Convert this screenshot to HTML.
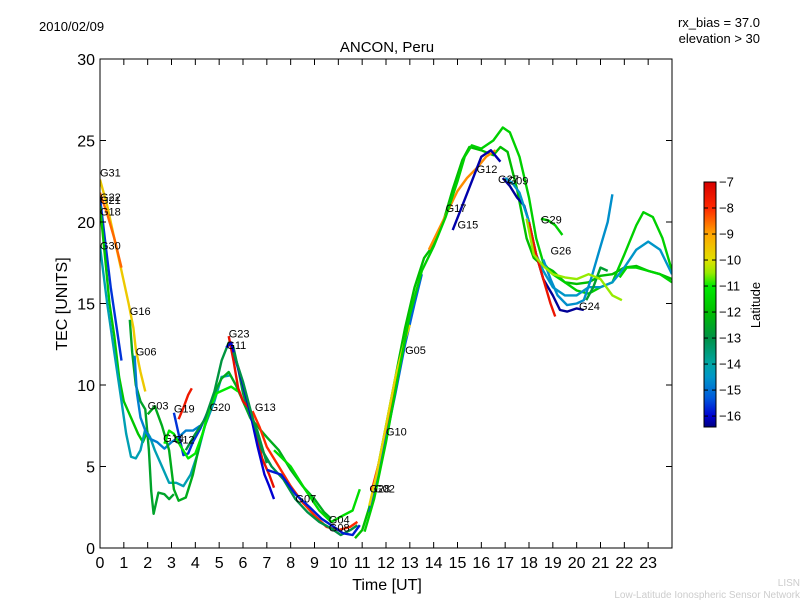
<!DOCTYPE html>
<html><head><meta charset="utf-8"><style>
body{margin:0;background:#fff;font-family:"Liberation Sans","DejaVu Sans",sans-serif;}
</style></head><body>
<svg id="c" width="800" height="600" viewBox="0 0 800 600" xmlns="http://www.w3.org/2000/svg" font-family="Liberation Sans, DejaVu Sans, sans-serif">
<rect width="800" height="600" fill="#fff"/>
<text x="39" y="31" font-size="13">2010/02/09</text>
<text x="760" y="27" font-size="13" text-anchor="end">rx_bias = 37.0</text>
<text x="760" y="43" font-size="13" text-anchor="end">elevation &gt; 30</text>
<text x="387" y="52" font-size="15" text-anchor="middle">ANCON, Peru</text>
<text x="387" y="590" font-size="16" text-anchor="middle">Time [UT]</text>
<text x="67" y="304" font-size="16" text-anchor="middle" transform="rotate(-90 67 304)">TEC [UNITS]</text>
<text x="800" y="586" font-size="10" fill="#ccc" text-anchor="end">LISN</text>
<text x="800" y="598" font-size="10" fill="#ccc" text-anchor="end">Low-Latitude Ionospheric Sensor Network</text>
<defs><linearGradient id="cg" x1="0" y1="0" x2="0" y2="1"></linearGradient><clipPath id="pc"><rect x="100" y="59" width="572" height="489"/></clipPath></defs>
<g id="plot" clip-path="url(#pc)"></g>
<rect x="100" y="59" width="572" height="489" fill="none" stroke="#000"/>
<g id="axes"></g>
<rect x="704" y="182" width="12" height="245" fill="url(#cg)" stroke="#000"/>
<g id="cbar"></g>
<text x="760" y="305" font-size="13" text-anchor="middle" transform="rotate(-90 760 305)">Latitude</text>
</svg>
<script>
const xTicks=[0,1,2,3,4,5,6,7,8,9,10,11,12,13,14,15,16,17,18,19,20,21,22,23];
const yTicks=[0,5,10,15,20,25,30];
const cbTicks=[-7,-8,-9,-10,-11,-12,-13,-14,-15,-16];
const seriesNames=["G31","G22","G21","G18","G30","G16","G06","G03","G19","G19b","G14","G20","G23","G11","G13","G07","G04","G08","G28","G02","G10","G05","G17","G15","G12","G27","G09","G29","G26","G24","G25","G32","G01"];
const seriesLat=[-9.6,-8.5,-15.6,-11.8,-14.2,-12.6,-14.8,-12.4,-15.6,-7.6,-11,-12.9,-7.4,-16,-8,-13,-15.8,-11.3,-12,-8,-15.2,-9.8,-8.8,-16.2,-11.6,-16.3,-14.5,-11.6,-14.6,-7.5,-12.7,-10.5,-11.5];
const seriesPts=[
[[0,22.6],[0.3,21],[0.6,19],[0.9,17],[1.2,15],[1.4,13.5],[1.5,12.2],[1.7,10.8],[1.9,9.6]],
[[0,21.8],[0.3,20.5],[0.6,19],[0.9,17.2]],
[[0,21.5],[0.2,19],[0.45,16],[0.7,13.5],[0.9,11.5]],
[[0,21],[0.2,18],[0.4,15],[0.6,13],[0.8,10.5],[1.0,9],[1.3,8],[1.6,7],[1.8,6.5],[2.0,7.2]],
[[0,18.5],[0.3,15],[0.6,12],[0.9,9],[1.1,7],[1.3,5.6],[1.5,5.5],[1.7,6],[1.9,7.3],[2.1,6.8],[2.3,6],[2.6,5],[2.9,4],[3.2,4],[3.5,3.8],[3.8,4.5],[4.1,5.8],[4.4,7.5],[4.8,9],[5.1,10.5],[5.5,10.6]],
[[1.25,14],[1.35,12],[1.5,10],[1.7,9],[1.9,8.5],[2.05,6],[2.15,3.5],[2.25,2.1],[2.45,3.4],[2.7,3.3],[2.9,3],[3.1,3.3]],
[[1.45,11.8],[1.55,9.5],[1.7,8],[1.9,7.2],[2.1,6.7],[2.4,6.5],[2.7,6.1],[3.0,6.5],[3.3,6.8],[3.6,7.2],[3.9,7.2],[4.2,7.5]],
[[2.0,8.2],[2.3,8.7],[2.6,7.5],[2.9,6],[3.1,3.6],[3.3,2.9],[3.6,3.1],[3.9,4.5],[4.2,6.5],[4.5,8],[4.8,9.5],[5.1,10.4],[5.4,10.8],[5.7,10],[6,9],[6.3,8],[6.7,7.3],[7.0,6.8],[7.5,6],[8,4.8],[8.5,3.8],[9,3],[9.4,2.2],[9.7,1.8]],
[[3.1,8.3],[3.3,7],[3.5,5.7],[3.7,5.8],[3.9,6.5],[4.2,7.3],[4.5,8.3]],
[[3.3,7.9],[3.5,8.6],[3.7,9.4],[3.85,9.8]],
[[2.7,6.4],[2.9,7.2],[3.1,7],[3.4,6.2],[3.7,5.5],[4.0,5.8],[4.3,7],[4.6,8.6],[4.9,9.5],[5.2,9.7],[5.5,9.9],[5.8,9.6]],
[[3.6,6],[4,7],[4.4,7.9],[4.8,9.6],[5.1,11.5],[5.4,12.6],[5.6,12.3],[5.8,11],[6.0,9.5],[6.3,8],[6.6,7.2],[7,5.2]],
[[5.4,13],[5.6,11.5],[5.8,9.8],[6.0,9],[6.3,8.5],[6.5,7.5],[6.8,5.5],[7.1,4.5],[7.3,3.7]],
[[5.3,12.3],[5.5,12.6],[5.7,11.5],[6.0,10],[6.3,8.3],[6.6,6.3],[6.9,4.5],[7.1,3.8],[7.3,3]],
[[6.4,8.4],[6.7,7.4],[7.0,6.2],[7.5,5],[8,3.8],[8.5,2.8],[9,2],[9.5,1.3],[10,1.1],[10.5,1.3],[10.8,1.6]],
[[5.6,12],[6,10.2],[6.4,8],[6.8,6],[7.2,5],[7.7,4.2],[8.2,3],[8.7,2.2],[9.2,1.6],[9.7,1.2],[10.1,0.8],[10.5,1.1],[10.8,1.4]],
[[7,4.8],[7.6,4.5],[8.2,3.3],[8.8,2.5],[9.3,1.8],[9.8,1.3],[10.2,0.9],[10.6,0.8],[10.9,1.4]],
[[7.3,6],[8,5],[8.6,3.6],[9.2,2.3],[9.7,1.6],[10.2,2],[10.6,2.3],[10.9,3.6]],
[[10.7,0.6],[11,1.1],[11.3,2.5],[11.6,4.5],[12,7.5],[12.4,10.5],[12.8,13.5],[13.2,16],[13.6,17.8],[14,18.6],[14.4,20],[14.8,22],[15.2,23.8],[15.5,24.6],[16,24.4],[16.5,24.1],[16.8,24.6],[17.1,24.3],[17.5,22],[17.9,19],[18.2,17.8],[18.5,17.4],[19,17],[19.5,16.3],[20,16.2],[20.5,16.3],[21,16.7],[21.5,16.8],[22,17.2],[22.5,17.3],[23,17],[23.5,16.8],[24,16.5]],
[[11.4,3.5],[11.7,5.2],[12,7.2],[12.3,9.5],[12.6,11.6]],
[[11.3,2.2],[11.6,4],[12,6.7],[12.4,9.5],[12.8,12.5],[13.2,15],[13.5,16.8]],
[[11.3,2.6],[11.6,4.5],[12,7.5],[12.4,10.5],[12.8,12.8],[13,13.7]],
[[13.8,18.3],[14.2,19.5],[14.6,20.7],[15,21.9],[15.4,22.7],[15.8,23.3],[16.2,24],[16.6,24.4]],
[[14.8,19.5],[15.2,21],[15.6,22.5],[16,24],[16.4,24.4],[16.8,23.7]],
[[11.1,1],[11.5,3],[12,6.5],[12.5,10.5],[13,14.3],[13.5,17],[14,18.5],[14.5,20.3],[15,22.5],[15.3,24],[15.6,24.7],[16,24.5],[16.5,25],[16.9,25.8],[17.2,25.5],[17.6,24],[18,21.5],[18.3,19],[18.6,17.5],[19,16.8],[19.5,16.3],[20,15.8],[20.5,15.6],[21,16],[21.5,16.3],[22,18],[22.5,19.8],[22.8,20.6],[23.2,20.3],[23.6,19],[24,17]],
[[16.9,22.7],[17.2,22.2],[17.5,21.5],[17.8,21],[18,20],[18.3,18],[18.6,16.5],[19,15.5],[19.3,14.6],[19.6,14.5],[20,14.7],[20.3,14.6]],
[[17,22.7],[17.3,22.4],[17.6,21.8],[18,20],[18.3,18],[18.6,17],[19,16],[19.5,15.5],[20,15.5],[20.5,16],[21,16],[21.5,16.3],[22,17.2],[22.5,18.3],[23,18.8],[23.5,18.3],[24,16.8]],
[[18.5,20.2],[18.8,20.1],[19.1,19.8],[19.4,19.2]],
[[18.6,17.7],[18.9,16.5],[19.2,15.5],[19.6,14.9],[20,15],[20.3,15.2],[20.6,16.5],[21,18.5],[21.3,20],[21.5,21.7]],
[[18,20],[18.3,18],[18.6,16.5],[18.9,15],[19.1,14.2]],
[[20.4,15.2],[20.7,16],[21,17.2],[21.3,17]],
[[17.9,20.2],[18.2,18],[18.6,17.3],[19,16.8],[19.5,16.6],[20,16.5],[20.5,16.8],[21,16.5],[21.5,15.5],[21.9,15.2]],
[[21.8,16.6],[22.1,17.2],[22.5,17.2],[23,17],[23.5,16.8],[24,16.3]]
];
const labelNames=["G31","G22","G21","G18","G30","G16","G06","G03","G19","G14","G12","G20","G23","G11","G13","G07","G04","G08","G28","G02","G10","G05","G17","G15","G12","G27","G09","G29","G26","G24"];
const labelX=[0,0,0,0,0,1.25,1.5,2.0,3.1,2.65,3.1,4.6,5.4,5.3,6.5,8.2,9.6,9.6,11.3,11.5,12.0,12.8,14.5,15.0,15.8,16.7,17.1,18.5,18.9,20.1];
const labelY=[22.8,21.3,21.1,20.4,18.3,14.3,11.8,8.5,8.3,6.5,6.4,8.4,12.9,12.2,8.4,2.8,1.5,1.0,3.4,3.4,6.9,11.9,20.6,19.6,23.0,22.4,22.3,19.9,18.0,14.6];
const X=h=>100+h*572/24, Y=v=>548-v*489/30;
const latMin=-16.42, latMax=-7;
const cmap=[[-16.42,0,0,128],[-16,0,0,210],[-15.3,0,90,220],[-14.5,0,150,200],[-14,0,165,165],[-13,0,145,70],[-12,0,190,0],[-11,0,235,0],[-10.5,150,235,0],[-10,225,225,0],[-9,255,165,0],[-8,255,40,0],[-7,215,0,0]];
function col(lat){lat=Math.max(latMin,Math.min(latMax,lat));for(let i=0;i<cmap.length-1;i++){const a=cmap[i],b=cmap[i+1];if(lat<=b[0]){const f=(lat-a[0])/(b[0]-a[0]);return `rgb(${[1,2,3].map(k=>Math.round(a[k]+f*(b[k]-a[k]))).join(',')})`;}}return 'rgb(215,0,0)';}
const NS="http://www.w3.org/2000/svg";
const cg=document.getElementById('cg');
cmap.slice().reverse().forEach(s=>{const st=document.createElementNS(NS,'stop');st.setAttribute('offset',((latMax-s[0])/(latMax-latMin)).toFixed(4));st.setAttribute('stop-color',`rgb(${s[1]},${s[2]},${s[3]})`);cg.appendChild(st);});
const plot=document.getElementById('plot');
seriesPts.forEach((pts,i)=>{const p=document.createElementNS(NS,'polyline');
p.setAttribute('points',pts.map(d=>X(d[0]).toFixed(1)+','+Y(d[1]).toFixed(1)).join(' '));
p.setAttribute('fill','none');p.setAttribute('stroke',col(seriesLat[i]));p.setAttribute('stroke-width','2.4');p.setAttribute('stroke-linejoin','round');


plot.appendChild(p);});
labelNames.forEach((n,i)=>{const t=document.createElementNS(NS,'text');t.setAttribute('x',X(labelX[i]));t.setAttribute('y',Y(labelY[i]));t.setAttribute('font-size','11');t.textContent=n;


plot.appendChild(t);});
const ax=document.getElementById('axes');
xTicks.forEach(v=>{const x=X(v);ax.insertAdjacentHTML('beforeend',`<line x1="${x}" y1="548" x2="${x}" y2="542" stroke="#000"/><line x1="${x}" y1="59" x2="${x}" y2="65" stroke="#000"/>`);
const t=document.createElementNS(NS,'text');t.setAttribute('x',x);t.setAttribute('y',568);t.setAttribute('font-size','16');t.setAttribute('text-anchor','middle');t.textContent=v;


ax.appendChild(t);});
yTicks.forEach(v=>{const y=Y(v);ax.insertAdjacentHTML('beforeend',`<line x1="100" y1="${y}" x2="106" y2="${y}" stroke="#000"/><line x1="672" y1="${y}" x2="666" y2="${y}" stroke="#000"/>`);
const t=document.createElementNS(NS,'text');t.setAttribute('x',95);t.setAttribute('y',y+6);t.setAttribute('font-size','16');t.setAttribute('text-anchor','end');t.textContent=v;


ax.appendChild(t);});
const cb=document.getElementById('cbar');
cbTicks.forEach(v=>{const y=182+(latMax-v)/(latMax-latMin)*245;cb.insertAdjacentHTML('beforeend',`<line x1="704" y1="${y}" x2="708" y2="${y}" stroke="#000"/><line x1="716" y1="${y}" x2="712" y2="${y}" stroke="#000"/>`);
const t=document.createElementNS(NS,'text');t.setAttribute('x',719);t.setAttribute('y',y+4.5);t.setAttribute('font-size','13');t.textContent=String(v).replace('-','\u2212');


cb.appendChild(t);});
</script>
</body></html>
